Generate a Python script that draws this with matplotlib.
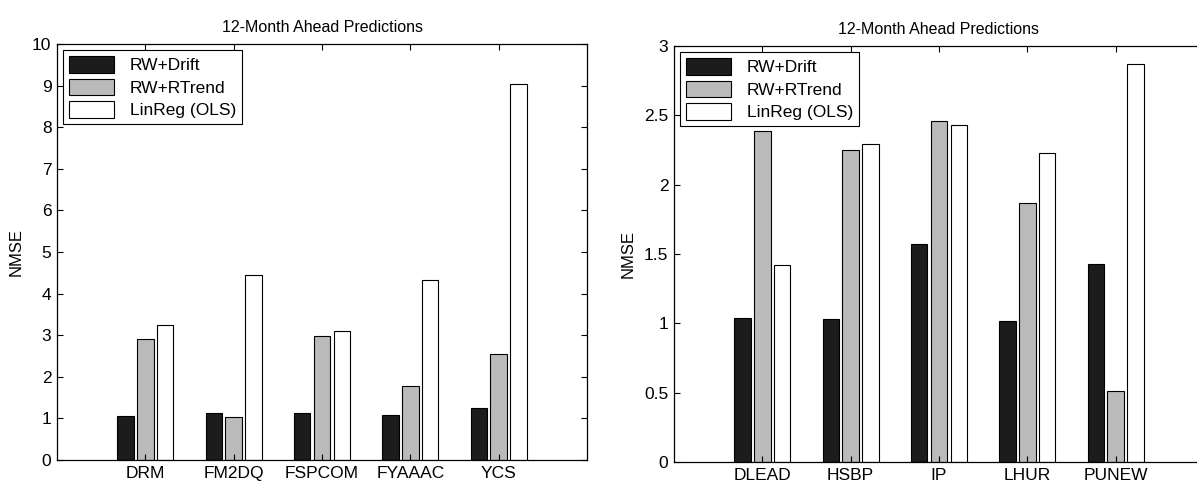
import numpy as np
import matplotlib.pyplot as plt

plt.rcParams['font.family'] = ['Liberation Sans', 'DejaVu Sans']

series_names = ['RW+Drift', 'RW+RTrend', 'LinReg (OLS)']

left_labels = ['DRM', 'FM2DQ', 'FSPCOM', 'FYAAAC', 'YCS']
left_drift = [1.06, 1.14, 1.12, 1.09, 1.26]
left_rtrend = [2.91, 1.03, 2.99, 1.78, 2.55]
left_ols = [3.25, 4.45, 3.11, 4.32, 9.04]

right_labels = ['DLEAD', 'HSBP', 'IP', 'LHUR', 'PUNEW']
right_drift = [1.04, 1.03, 1.57, 1.02, 1.43]
right_rtrend = [2.39, 2.25, 2.46, 1.87, 0.51]
right_ols = [1.42, 2.29, 2.43, 2.23, 2.87]

colors = ['#1c1c1c', '#bababa', 'white']
W, H = 1197, 484


def bar_panel(ax, labels, drift, rtrend, ols, ymax, yticks, yticklabels):
    x = np.arange(1, len(labels) + 1)
    width = 0.185
    step = 0.225
    for k, (vals, c) in enumerate(zip([drift, rtrend, ols], colors)):
        ax.bar(x + (k - 1) * step, vals, width, color=c, edgecolor='black',
               linewidth=0.8, label=series_names[k])
    ax.set_xlim(0, 6)
    ax.set_ylim(0, ymax)
    ax.set_xticks(x)
    ax.set_xticklabels(labels, fontsize=12.5)
    ax.set_yticks(yticks)
    ax.set_yticklabels(yticklabels, fontsize=12.5)
    ax.tick_params(direction='in', top=True, right=True, length=4, width=0.8, pad=4)
    ax.set_ylabel('NMSE', fontsize=12, labelpad=6)
    ax.set_title('12-Month Ahead Predictions', fontsize=11.5, pad=9)
    for s in ax.spines.values():
        s.set_linewidth(0.9)
    leg = ax.legend(loc='upper left', fontsize=12.5, frameon=True, fancybox=False,
                    edgecolor='black', framealpha=1, borderaxespad=0.35,
                    handlelength=2.6, handleheight=1.1, labelspacing=0.3,
                    borderpad=0.35, handletextpad=0.9)
    leg.get_frame().set_linewidth(0.8)


fig = plt.figure(figsize=(W / 100, H / 100), dpi=100)
ax1 = fig.add_axes([57 / W, 1 - 460 / H, 530 / W, 416 / H])
ax2 = fig.add_axes([674 / W, 1 - 462 / H, 530 / W, 416 / H])

bar_panel(ax1, left_labels, left_drift, left_rtrend, left_ols, 10,
          range(0, 11), [str(v) for v in range(0, 11)])
bar_panel(ax2, right_labels, right_drift, right_rtrend, right_ols, 3,
          [0, 0.5, 1, 1.5, 2, 2.5, 3], ['0', '0.5', '1', '1.5', '2', '2.5', '3'])

fig.savefig('out.png', dpi=100)
